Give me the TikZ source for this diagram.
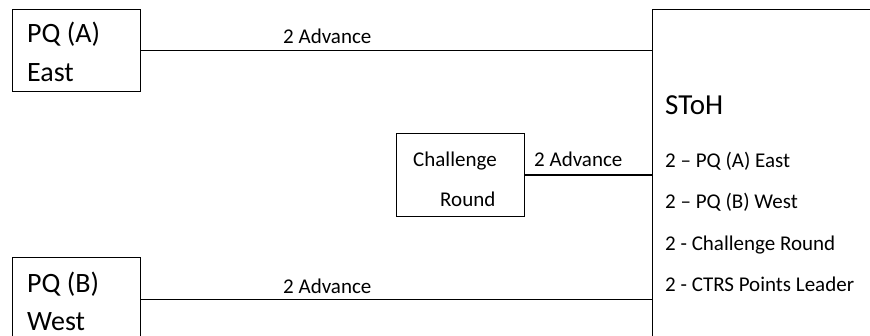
\documentclass[tikz,border=0pt]{standalone}
\usepackage{fontspec}
\setmainfont{Carlito}
\begin{document}
\begin{tikzpicture}[x=1pt,y=-1pt,
  box/.style={draw,line width=1.4pt,minimum width=128pt,inner sep=0pt,anchor=north west},
  big/.style={font=\fontsize{28}{30}\selectfont,anchor=base west,inner sep=0pt},
  small/.style={font=\fontsize{21}{24}\selectfont,anchor=base west,inner sep=0pt},
  conn/.style={line width=1.4pt}]
\useasboundingbox (0,0) rectangle (870,336);
\node[box,minimum height=82pt] (A) at (12,9) {};
\node[box,minimum height=84pt] (B) at (12,257) {};
\node[box,minimum height=83pt] (C) at (396,133) {};
\node[box,minimum width=300pt,minimum height=400pt] (S) at (652,9) {};
\node[big] (ta1) at (27,43) {PQ (A)};
\node[big] (ta2) at (27,82) {East};
\node[big] (tb1) at (27,293) {PQ (B)};
\node[big] (tb2) at (27,331) {West};
\node[small] (tc1) at (413,167) {Challenge};
\node[small] (tc2) at (440,207) {Round};
\node[font=\fontsize{29}{31}\selectfont,anchor=base west,inner sep=0pt] (ts) at (665,115) {SToH};
\node[small] (s1) at (665,168) {2 – PQ (A) East};
\node[small] (s2) at (665,209) {2 – PQ (B) West};
\node[small] (s3) at (665,251) {2 - Challenge Round};
\node[small] (s4) at (665,292) {2 - CTRS Points Leader};
\draw[conn] (A.east) -- (S.west |- A.east);
\draw[conn] (C.east) -- (S.west |- C.east);
\draw[conn] (B.east) -- (S.west |- B.east);
\node[small] (l1) at (283,44) {2 Advance};
\node[small] (l2) at (534,167) {2 Advance};
\node[small] (l3) at (283,294) {2 Advance};
\end{tikzpicture}
\end{document}
